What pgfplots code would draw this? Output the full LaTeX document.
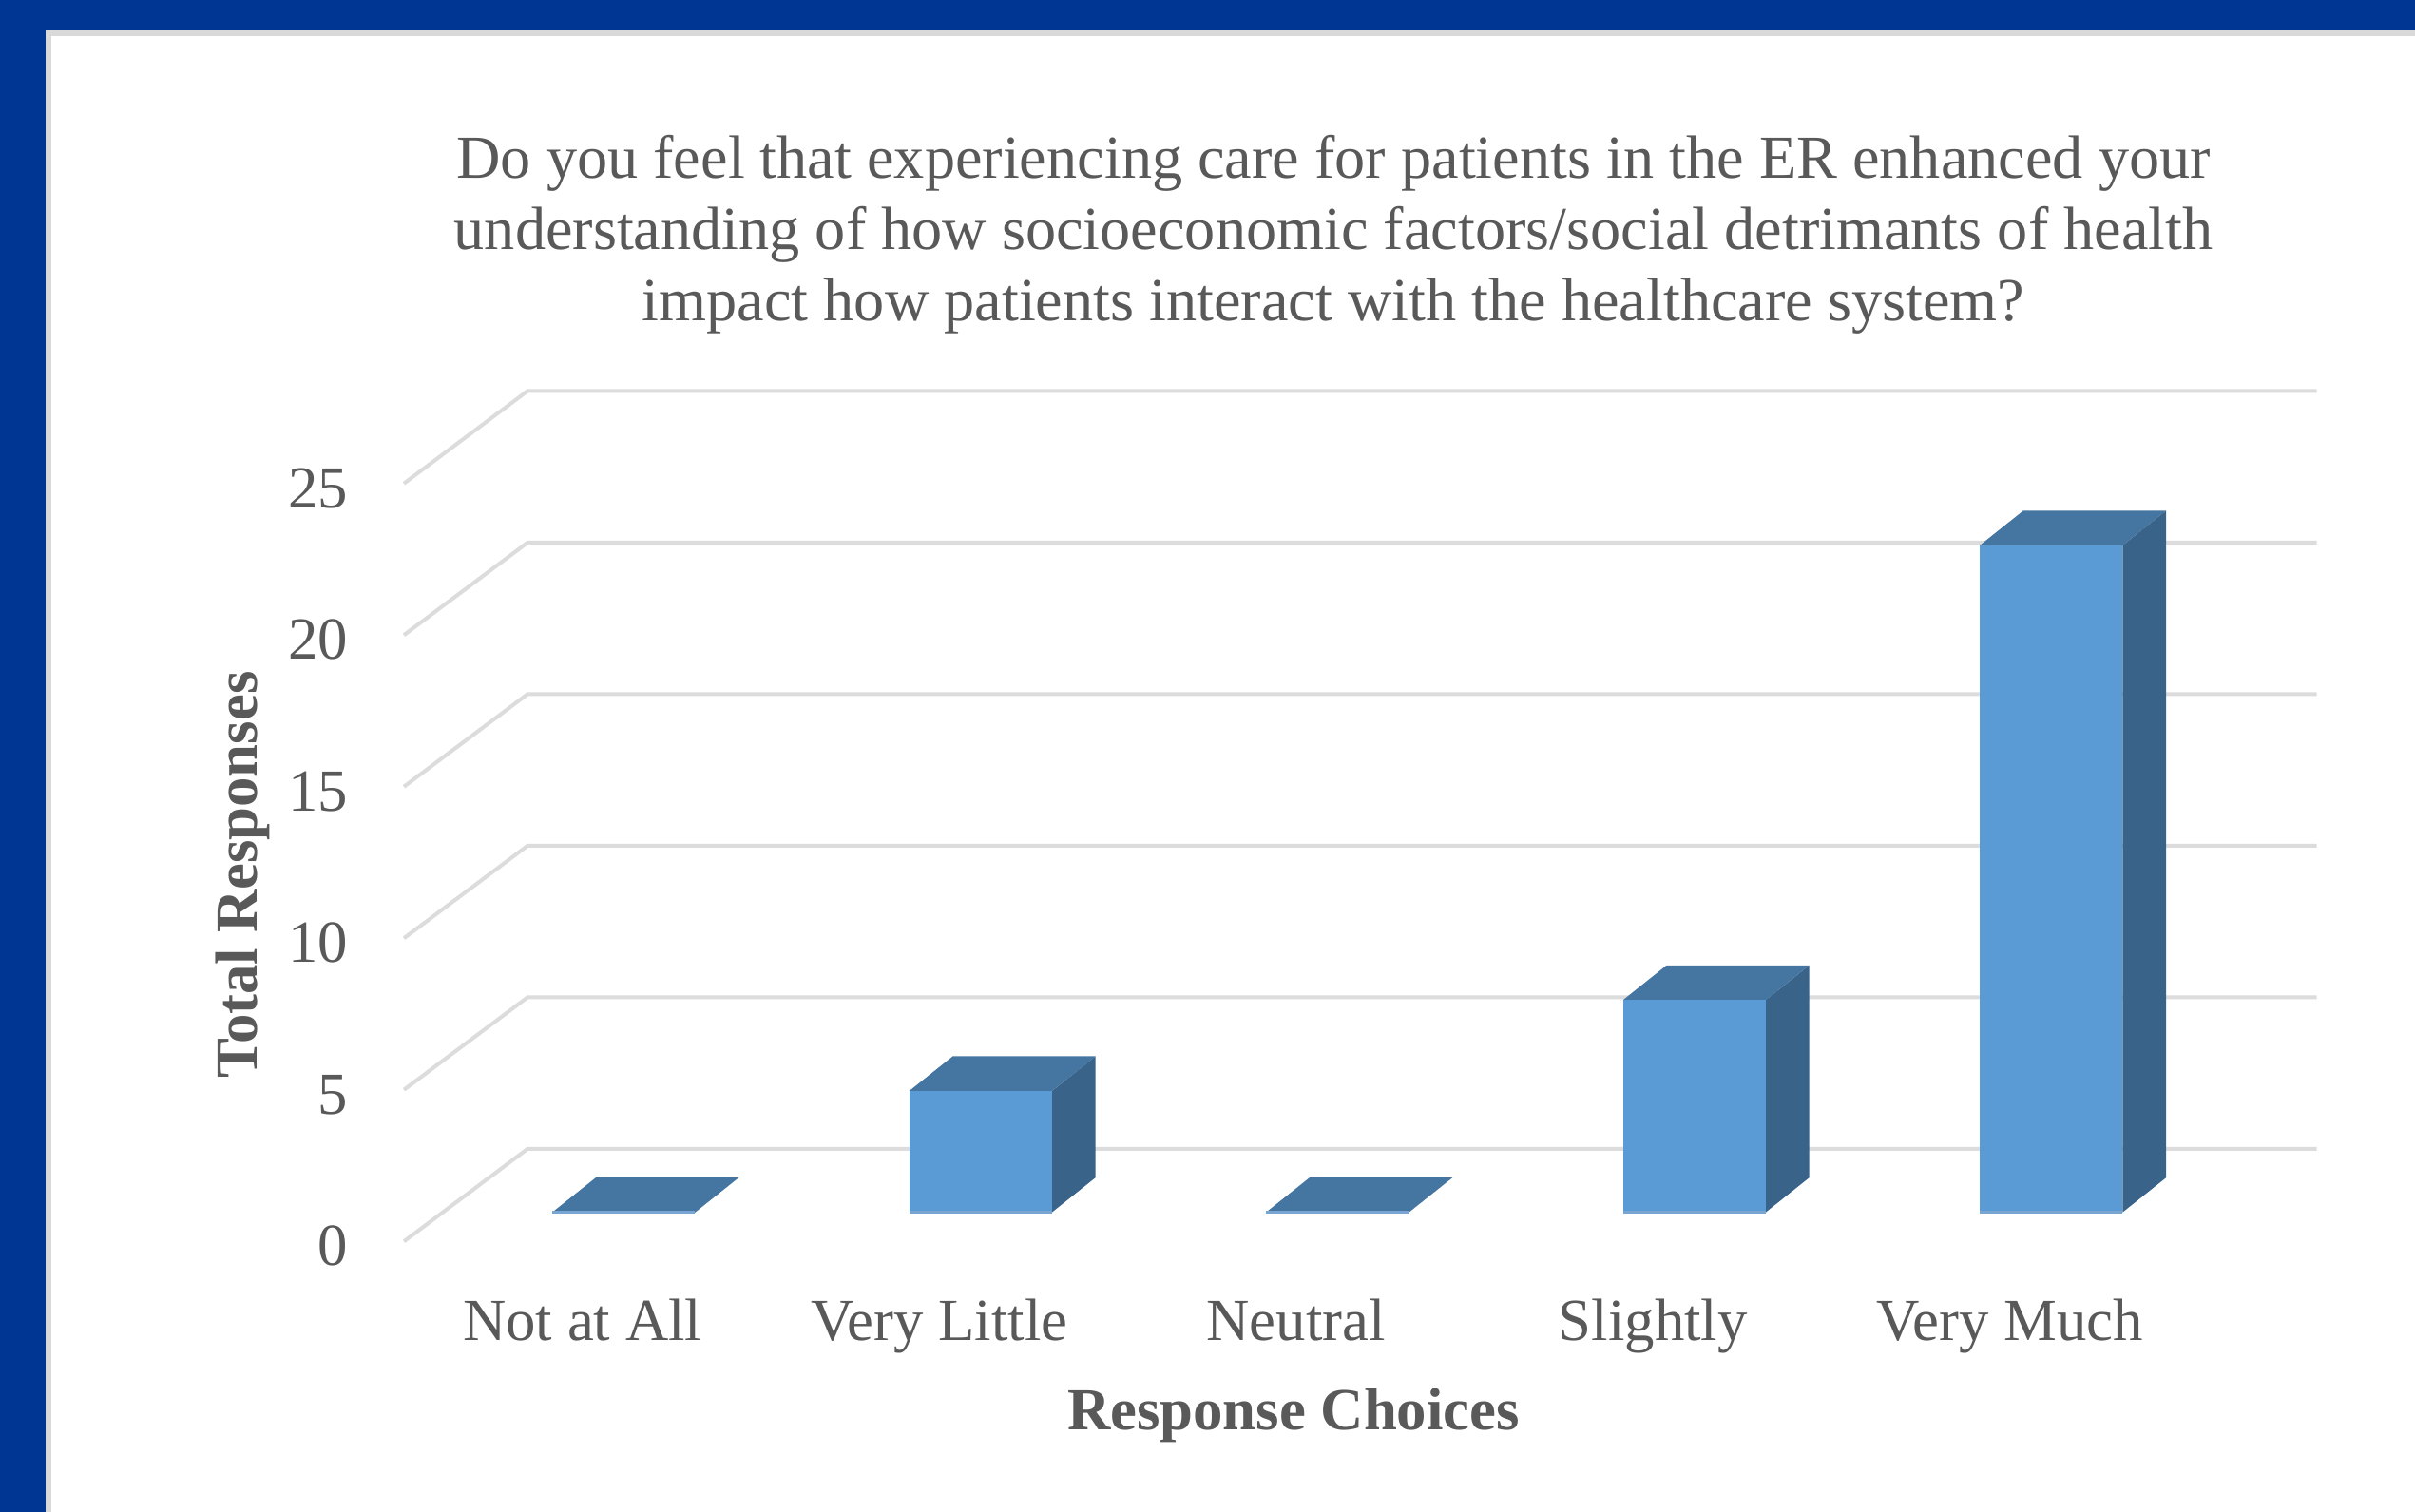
\documentclass[border=0pt]{standalone}
\usepackage{fontspec}
\setmainfont{Liberation Serif}
\usepackage{pgfplots}
\usepackage{pgfplotstable}
\pgfplotsset{compat=1.18}
\definecolor{frameblue}{RGB}{0,54,147}
\definecolor{framegray}{RGB}{217,217,217}
\definecolor{txt}{RGB}{89,89,89}
\definecolor{gridc}{RGB}{220,220,220}
\definecolor{barfront}{RGB}{91,155,213}
\definecolor{bartop}{RGB}{69,117,161}
\definecolor{barside}{RGB}{57,99,137}
\definecolor{baredge}{RGB}{120,165,210}

\pgfplotstableread{
i v
0 0
1 4
2 0
3 7
4 22
}\datatable

\begin{document}
\begin{tikzpicture}
\path[use as bounding box, fill=white] (0,0) rectangle (508.2bp,318.2bp);
\fill[frameblue] (0,311.8bp) rectangle (508.2bp,318.2bp);
\fill[frameblue] (0,0) rectangle (9.6bp,318.2bp);
\fill[framegray] (9.6bp,310.6bp) rectangle (508.2bp,311.8bp);
\fill[framegray] (9.6bp,0) rectangle (10.8bp,311.8bp);
\begin{axis}[
  at={(85bp,56.94bp)}, anchor=south west,
  x=75.1bp, y=6.38bp,
  xmin=-0.5, xmax=4.8595, ymin=0, ymax=28.05,
  clip=false,
  axis line style={draw=none},
  major tick length=0pt,
  ytick={0,5,...,25},
  xtick={0,...,4},
  xticklabels={Not at All, Very Little, Neutral, Slightly, Very Much},
  /pgf/number format/assume math mode=true,
  tick label style={font=\fontsize{12.6}{15}\selectfont, text=txt},
  yticklabel style={anchor=east, inner sep=0pt, xshift=-11.6bp, yshift=-1bp},
  xticklabel style={anchor=base, inner sep=0pt, yshift=-20.8bp},
  title={Do you feel that experiencing care for patients in the ER enhanced your\\understanding of how socioeconomic factors/social detrimants of health\\impact how patients interact with the healthcare system?},
  title style={at={(axis description cs:0.486,1.269)}, anchor=north, inner sep=0pt, align=center, font=\fontsize{12.9}{15.1}\selectfont, text=txt},
  xlabel={Response Choices},
  xlabel style={at={(axis description cs:0.4651,-0.2216)}, anchor=base, inner sep=0pt, font=\fontsize{12.6}{15}\selectfont\bfseries, text=txt},
  ylabel={Total Responses},
  ylabel style={at={(axis description cs:-0.0770,0.431)}, anchor=base, inner sep=0pt, font=\fontsize{12.6}{15}\selectfont\bfseries, text=txt},
]
% back wall and side wall gridlines
\addplot[gridc, line width=0.8bp] coordinates {(-0.5,0) (-0.1538,3.05) (4.8595,3.05)};
\addplot[gridc, line width=0.8bp] coordinates {(-0.5,5) (-0.1538,8.05) (4.8595,8.05)};
\addplot[gridc, line width=0.8bp] coordinates {(-0.5,10) (-0.1538,13.05) (4.8595,13.05)};
\addplot[gridc, line width=0.8bp] coordinates {(-0.5,15) (-0.1538,18.05) (4.8595,18.05)};
\addplot[gridc, line width=0.8bp] coordinates {(-0.5,20) (-0.1538,23.05) (4.8595,23.05)};
\addplot[gridc, line width=0.8bp] coordinates {(-0.5,25) (-0.1538,28.05) (4.8595,28.05)};
% 3D bars
\pgfplotsinvokeforeach{0,...,4}{
  \pgfplotstablegetelem{#1}{v}\of\datatable
  \pgfmathsetmacro\va{\pgfplotsretval}
  \pgfmathsetmacro\xa{#1-0.084}
  \pgfmathsetmacro\xb{#1+0.316}
  \pgfmathsetmacro\xc{#1-0.084+0.122}
  \pgfmathsetmacro\xd{#1+0.316+0.122}
  \pgfmathsetmacro\ya{0.963}
  \pgfmathsetmacro\yb{\va+0.963}
  \pgfmathsetmacro\yc{\va+0.963+1.144}
  \pgfmathsetmacro\yd{0.963+1.144}
  \edef\drawbar{%
    \noexpand\addplot[fill=barside, draw=none] coordinates {(\xb,\ya) (\xd,\yd) (\xd,\yc) (\xb,\yb)} -- cycle;
    \noexpand\addplot[fill=bartop, draw=none] coordinates {(\xa,\yb) (\xb,\yb) (\xd,\yc) (\xc,\yc)} -- cycle;
    \noexpand\addplot[fill=barfront, draw=none] coordinates {(\xa,\ya) (\xb,\ya) (\xb,\yb) (\xa,\yb)} -- cycle;
    \noexpand\addplot[baredge, line width=0.5bp] coordinates {(\xa,\ya) (\xb,\ya)};
  }%
  \drawbar
}
\end{axis}
\end{tikzpicture}
\end{document}
